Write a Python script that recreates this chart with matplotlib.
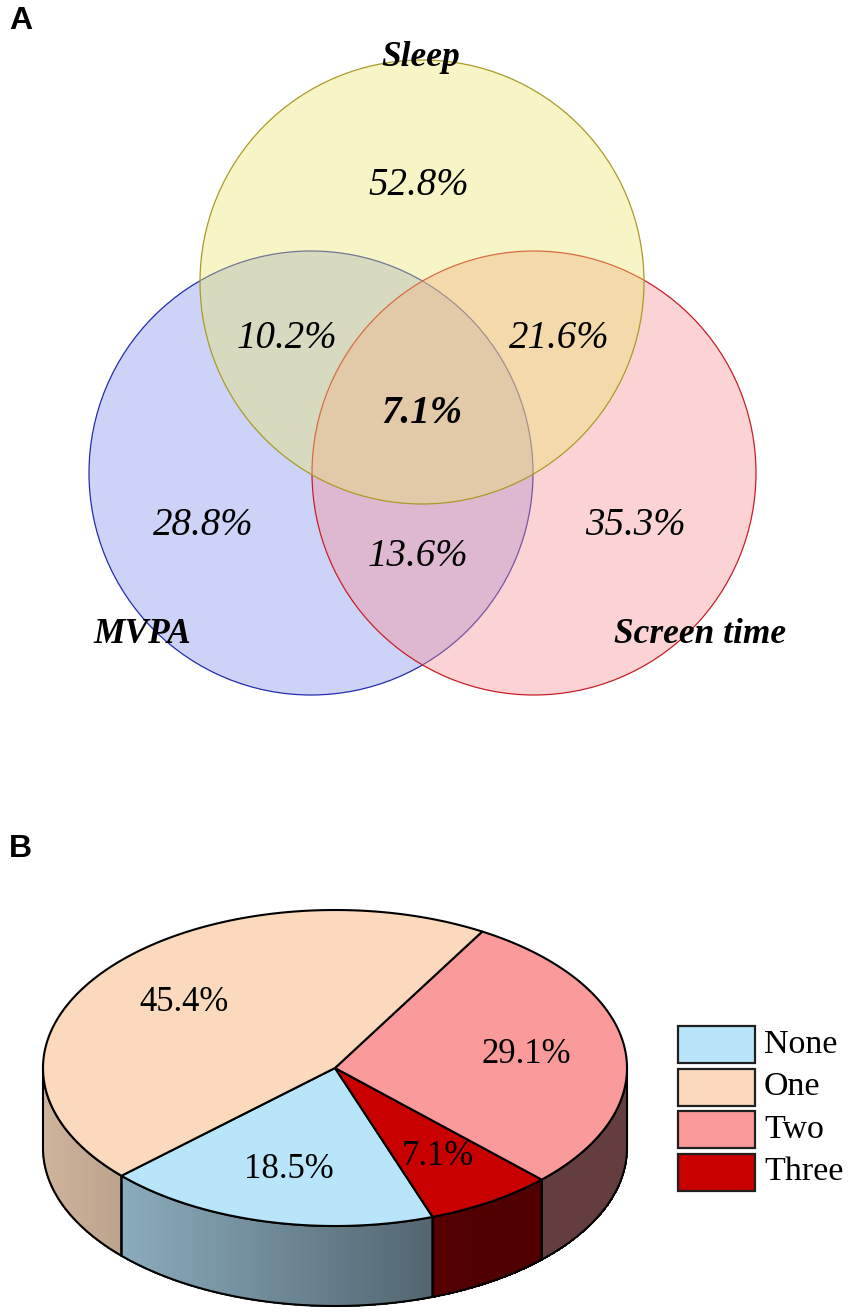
import numpy as np
import matplotlib.pyplot as plt
from matplotlib.patches import Circle, Polygon, Rectangle

# --- Panel A: Venn diagram values ---
venn_sets = ['Sleep', 'MVPA', 'Screen time']
venn_regions = ['Sleep only', 'MVPA only', 'Screen only',
                'Sleep+MVPA', 'Sleep+Screen', 'MVPA+Screen', 'All three']
venn_pcts = [52.8, 28.8, 35.3, 10.2, 21.6, 13.6, 7.1]

# --- Panel B: pie values ---
pie_labels = ['None', 'One', 'Two', 'Three']
pie_pcts = [18.5, 45.4, 29.1, 7.1]

W, H = 851, 1315
SERIF = 'Liberation Serif'

fig = plt.figure(figsize=(W / 100, H / 100), dpi=100)
ax = fig.add_axes([0, 0, 1, 1])
ax.set_xlim(0, W)
ax.set_ylim(H, 0)
ax.set_aspect('equal')
ax.axis('off')


def rgb(r, g, b, a=1.0):
    return (r / 255, g / 255, b / 255, a)


# ---------------- Panel A ----------------
R = 222
circle_pos = {'Sleep': (422, 282), 'MVPA': (311, 473), 'Screen time': (534, 473)}
circle_face = {'Sleep': rgb(235, 230, 110, 0.4),
               'MVPA': rgb(130, 145, 237, 0.4),
               'Screen time': rgb(247, 145, 150, 0.4)}
circle_edge = {'Sleep': rgb(170, 155, 40),
               'MVPA': rgb(35, 45, 175),
               'Screen time': rgb(200, 30, 40)}

# drawing order matters for the blended overlaps
for name in ['MVPA', 'Screen time', 'Sleep']:
    ax.add_patch(Circle(circle_pos[name], R, facecolor=circle_face[name],
                        edgecolor=circle_edge[name], lw=0.9))

set_label_pos = {'Sleep': (421, 57), 'MVPA': (142, 634), 'Screen time': (700, 634)}
for name in venn_sets:
    ax.text(*set_label_pos[name], name, fontsize=25.5, family=SERIF,
            style='italic', weight='bold', ha='center', va='center')

region_pos = [(419, 185), (203, 525), (635, 525),
              (287, 338), (559, 338), (418, 556), (422, 413)]
for i, (reg, val) in enumerate(zip(venn_regions, venn_pcts)):
    wt = 'bold' if reg == 'All three' else 'normal'
    ax.text(*region_pos[i], f'{val}%', fontsize=28, family=SERIF,
            style='italic', weight=wt, ha='center', va='center')

ax.text(9, 21, 'A', fontsize=23, family='Liberation Sans', weight='bold',
        ha='left', va='center')

# ---------------- Panel B ----------------
cx, cy, rx, ry, depth = 335, 1068, 292, 158, 80
top_colors = {'None': rgb(185, 229, 251), 'One': rgb(250, 217, 188),
              'Two': rgb(250, 154, 154), 'Three': rgb(200, 0, 0)}
pie_order = ['None', 'Three', 'Two', 'One']   # counter-clockwise
start_angle = -137.0


def ell(t, dy=0.0):
    t = np.radians(t)
    return np.column_stack([cx + rx * np.cos(t), cy - ry * np.sin(t) + dy])


def shade(u):
    return float(np.clip(0.54 - 0.29 * u, 0.4, 0.85))


def front_parts(a0, a1):
    parts = []
    for k in (-1, 0, 1):
        lo, hi = -180 + 360 * k, 360 * k
        s, e = max(a0, lo), min(a1, hi)
        if e > s:
            parts.append((s, e))
    return parts


total = sum(pie_pcts)
vals = dict(zip(pie_labels, pie_pcts))
wedges = []
a = start_angle
for name in pie_order:
    sweep = 360 * vals[name] / total
    wedges.append((name, a, a + sweep))
    a += sweep

# side walls (shaded strips, then a black outline)
for name, a0, a1 in wedges:
    base = np.array(top_colors[name][:3])
    for s, e in front_parts(a0, a1):
        ts = np.linspace(s, e, max(4, int((e - s) * 2)))
        for t0, t1 in zip(ts[:-1], ts[1:]):
            u = np.cos(np.radians((t0 + t1) / 2))
            col = base * shade(u)
            quad = np.vstack([ell([t0, t1]), ell([t1, t0], depth)])
            ax.add_patch(Polygon(quad, closed=True, facecolor=col,
                                 edgecolor=col, lw=0.8, antialiased=False,
                                 zorder=1))
        arc = np.linspace(s, e, 120)
        outline = np.vstack([ell(arc), ell(arc[::-1], depth)])
        ax.add_patch(Polygon(outline, closed=True, facecolor='none',
                             edgecolor='black', lw=1.5, joinstyle='round',
                             zorder=2))

# top face
for name, a0, a1 in wedges:
    arc = ell(np.linspace(a0, a1, 200))
    pts = np.vstack([[cx, cy], arc])
    ax.add_patch(Polygon(pts, closed=True, facecolor=top_colors[name],
                         edgecolor='black', lw=1.5, joinstyle='round',
                         zorder=3))
    mid = np.radians((a0 + a1) / 2)
    lx = cx + 0.66 * rx * np.cos(mid)
    ly = cy - 0.66 * ry * np.sin(mid)
    ax.text(lx, ly, f'{vals[name]}%', fontsize=25, family=SERIF,
            ha='center', va='center', zorder=4)

# legend
for i, name in enumerate(pie_labels):
    y0 = 1026 + i * 42.5
    ax.add_patch(Rectangle((678, y0), 77, 37, facecolor=top_colors[name],
                           edgecolor='#202020', lw=1.6, zorder=3))
    ax.text(764, y0 + 18.5, name, fontsize=24.5, family=SERIF,
            ha='left', va='center', zorder=4)

ax.text(9, 849, 'B', fontsize=23, family='Liberation Sans', weight='bold',
        ha='left', va='center')

fig.savefig('out.png', dpi=100)
